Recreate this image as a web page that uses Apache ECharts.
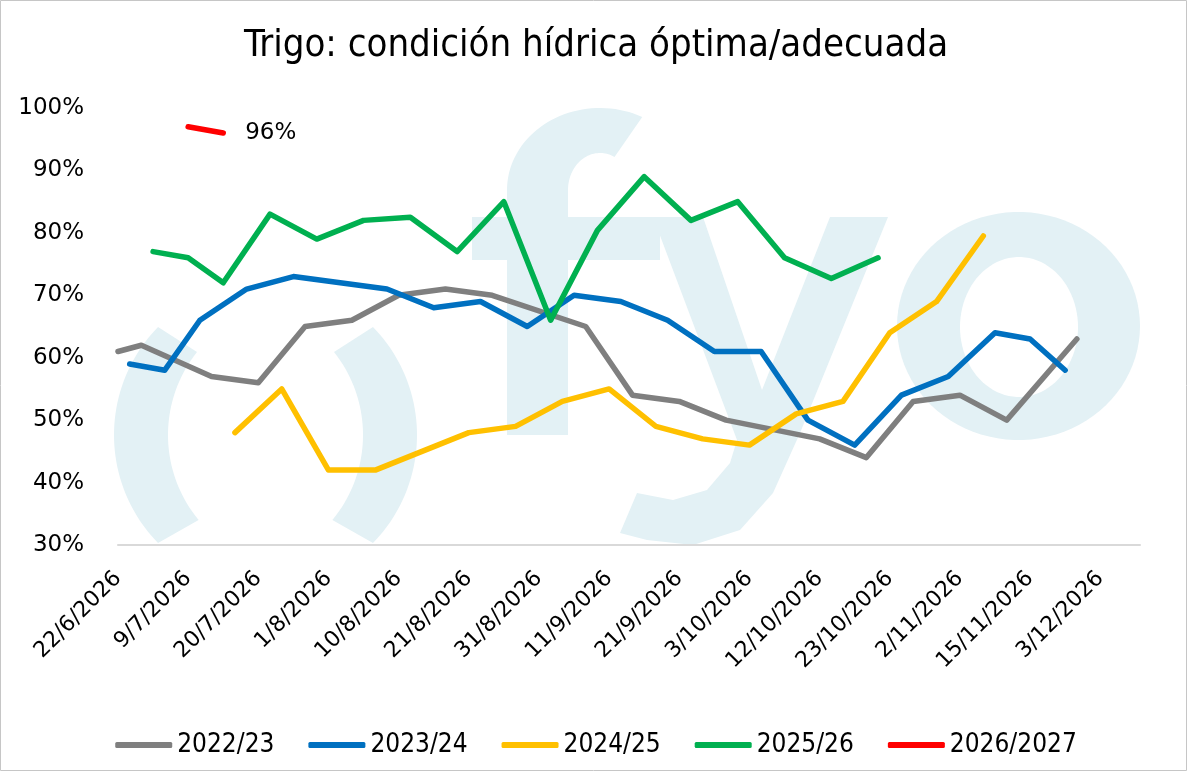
<!DOCTYPE html>
<html>
<head>
<meta charset="utf-8">
<script src="https://cdn.jsdelivr.net/npm/echarts@6/dist/echarts.min.js"></script>
<style>
html,body{margin:0;padding:0;background:#fff;}
#chart{width:1192px;height:773px;}
</style>
</head>
<body>
<div id="chart"></div>
<script>
// ---- data (x = row position on the category axis, labels shown every 6 rows) ----
const xLabels = ['22/6/2026','9/7/2026','20/7/2026','1/8/2026','10/8/2026','21/8/2026','31/8/2026',
  '11/9/2026','21/9/2026','3/10/2026','12/10/2026','23/10/2026','2/11/2026','15/11/2026','3/12/2026'];

const rows2223 = [0, 2, 8, 12, 16, 20, 24, 28, 32, 40, 44, 48, 52, 60, 64, 68, 72, 76, 82];
const vals2223 = [61, 62, 57, 56, 65, 66, 70, 71, 70, 65, 54, 53, 50, 47, 44, 53, 54, 50, 63];

const rows2324 = [1, 4, 7, 11, 15, 23, 27, 31, 35, 39, 43, 47, 51, 55, 59, 63, 67, 71, 75, 78, 81];
const vals2324 = [59, 58, 66, 71, 73, 71, 68, 69, 65, 70, 69, 66, 61, 61, 50, 46, 54, 57, 64, 63, 58];

const rows2425 = [10, 14, 18, 22, 30, 34, 38, 42, 46, 50, 54, 58, 62, 66, 70, 74];
const vals2425 = [48, 55, 42, 42, 48, 49, 53, 55, 49, 47, 46, 51, 53, 64, 69, 79.5];

const rows2526 = [3, 6, 9, 13, 17, 21, 25, 29, 33, 37, 41, 45, 49, 53, 57, 61, 65];
const vals2526 = [77, 76, 72, 83, 79, 82, 82.5, 77, 85, 66, 80.4, 89, 82, 85, 76, 72.7, 76];

const rows2627 = [6, 9];
const vals2627 = [97, 96];

const seriesNames = ['2022/23', '2023/24', '2024/25', '2025/26', '2026/2027'];
const seriesColors = ['#7f7f7f', '#0070c0', '#ffc000', '#00b050', '#ff0000'];

// ---- font helper ----
function pickFont(list) {
  const c = document.createElement('canvas').getContext('2d');
  const s = 'abcdefghijklmnopqrstuvwxyz0123456789/';
  for (const f of list) {
    let ok = false;
    for (const base of ['monospace', 'serif']) {
      c.font = '40px ' + base; const w0 = c.measureText(s).width;
      c.font = '40px "' + f + '", ' + base; const w1 = c.measureText(s).width;
      if (Math.abs(w0 - w1) > 0.5) ok = true;
    }
    if (ok) return '"' + f + '"';
  }
  return 'sans-serif';
}
const narrowFont = pickFont(['Liberation Sans Narrow', 'DejaVu Sans Condensed', 'Roboto Condensed', 'Lato']);
const baseFont = pickFont(['DejaVu Sans', 'Noto Sans', 'Open Sans']);

function pairs(rows, vals) { return rows.map((r, i) => [r, vals[i]]); }

// ---- watermark shape helpers (decoration only) ----
function arcPts(cx, cy, rx, ry, a0, a1, n) {
  const pts = [];
  for (let i = 0; i <= n; i++) {
    const a = (a0 + (a1 - a0) * i / n) * Math.PI / 180;
    pts.push([cx + rx * Math.cos(a), cy + ry * Math.sin(a)]);
  }
  return pts;
}
function crescent(cxo, ro, cxi, ri, cy, side) {
  const outer = [], inner = [];
  const top = 327, bot = 543;
  for (let i = 0; i <= 40; i++) {
    const y = top + (bot - top) * i / 40;
    const dy = y - cy;
    outer.push([cxo + side * Math.sqrt(Math.max(0, ro * ro - dy * dy)), y]);
  }
  const itop = 352, ibot = 520;
  for (let i = 40; i >= 0; i--) {
    const y = itop + (ibot - itop) * i / 40;
    const dy = y - cy;
    inner.push([cxi + side * Math.sqrt(Math.max(0, ri * ri - dy * dy)), y]);
  }
  return outer.concat(inner);
}
const wm = '#e3f1f5';
const leftParen = crescent(268.5, 154.5, 301.3, 133.3, 435, -1);
const rightParen = crescent(531 - 268.5, 154.5, 531 - 301.3, 133.3, 435, 1);
const fTop = arcPts(600, 190, 93, 82, 180, 297, 40).concat(arcPts(600, 190, 32, 37, 297, 180, 40));
const yShape = [[653, 217], [703, 217], [762, 390], [830, 217], [888, 217], [800, 433], [773, 493],
  [740, 530], [693, 545], [647, 540], [620, 533], [637, 493], [673, 500], [707, 490], [730, 463], [737, 440]];
const oOuter = arcPts(1018.5, 326, 121.5, 114, 0, 360, 90);
const oInner = arcPts(1019, 327, 59, 70, 0, 360, 90);

const chart = echarts.init(document.getElementById('chart'), null, { renderer: 'canvas' });

const option = {
  backgroundColor: '#ffffff',
  animation: false,
  title: {
    text: 'Trigo: condición hídrica óptima/adecuada',
    left: 'center', top: 22,
    textStyle: { fontFamily: narrowFont, fontSize: 38, fontWeight: 'normal', color: '#000' }
  },
  legend: {
    data: seriesNames,
    left: 'center', top: 727,
    icon: 'roundRect', itemWidth: 57, itemHeight: 6, itemGap: 34,
    textStyle: { fontFamily: narrowFont, fontSize: 26, color: '#000' }
  },
  grid: { left: 118, right: 52, top: 108, bottom: 228, containLabel: false },
  graphic: [
    { type: 'rect', z: 100, silent: true, shape: { x: 0.5, y: 0.5, width: 1186, height: 770 },
      style: { fill: 'none', stroke: '#c6c6c6', lineWidth: 1 } },
    { type: 'polygon', z: -1, silent: true, shape: { points: leftParen }, style: { fill: wm } },
    { type: 'polygon', z: -1, silent: true, shape: { points: rightParen }, style: { fill: wm } },
    { type: 'polygon', z: -1, silent: true, shape: { points: fTop }, style: { fill: wm } },
    { type: 'rect', z: -1, silent: true, shape: { x: 507, y: 189, width: 61, height: 246 }, style: { fill: wm } },
    { type: 'rect', z: -1, silent: true, shape: { x: 472, y: 217, width: 188, height: 43 }, style: { fill: wm } },
    { type: 'polygon', z: -1, silent: true, shape: { points: yShape }, style: { fill: wm } },
    { type: 'polygon', z: -1, silent: true, shape: { points: oOuter }, style: { fill: wm } },
    { type: 'polygon', z: -1, silent: true, shape: { points: oInner }, style: { fill: '#ffffff' } }
  ],
  xAxis: {
    type: 'value', min: 0, max: 87.4, interval: 6,
    axisLine: { show: true, lineStyle: { color: '#d9d9d9', width: 2 } },
    axisTick: { show: false },
    splitLine: { show: false },
    axisLabel: {
      rotate: 45, margin: 30, fontSize: 22, color: '#000', fontFamily: baseFont,
      showMaxLabel: false,
      formatter: v => (v % 6 === 0 && xLabels[v / 6]) ? xLabels[v / 6] : ''
    }
  },
  yAxis: {
    type: 'value', min: 30, max: 100, interval: 10,
    axisLine: { show: false }, axisTick: { show: false },
    splitLine: { show: false },
    axisLabel: { formatter: '{value}%', fontSize: 23, margin: 34, color: '#000', fontFamily: baseFont }
  },
  series: [
    [rows2223, vals2223], [rows2324, vals2324], [rows2425, vals2425], [rows2526, vals2526], [rows2627, vals2627]
  ].map((d, i) => {
    const s = {
      name: seriesNames[i], type: 'line', data: pairs(d[0], d[1]),
      showSymbol: false, symbol: 'none', smooth: false,
      color: seriesColors[i],
      lineStyle: { width: 5.5, color: seriesColors[i], cap: 'round', join: 'round' },
      emphasis: { disabled: true },
      z: 2 + i
    };
    if (i === 4) {
      s.endLabel = { show: true, distance: 22, formatter: p => p.value[1] + '%',
        fontSize: 23, color: '#000', fontFamily: baseFont };
    }
    return s;
  })
};
chart.setOption(option);
</script>
</body>
</html>
